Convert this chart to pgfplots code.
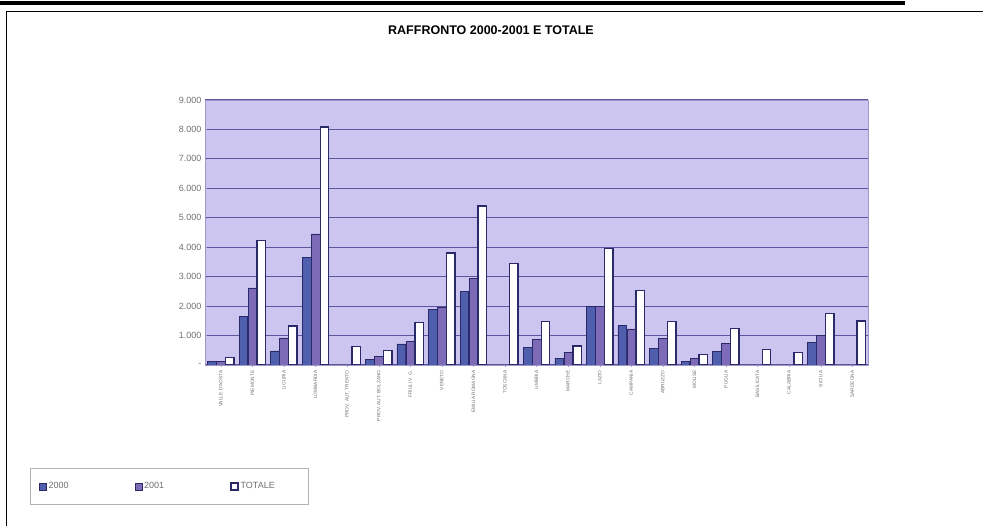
\documentclass[border=0pt]{standalone}
\usepackage{fontspec}
\setmainfont{Liberation Sans}
\usepackage{pgfplots}
\pgfplotsset{compat=1.18}
\definecolor{bgplot}{HTML}{CBC5F0}
\definecolor{gridc}{HTML}{5B55A0}
\definecolor{c2000}{HTML}{4F5FAE}
\definecolor{c2001}{HTML}{7D6BB8}
\definecolor{edgec}{HTML}{2A2A6A}
\definecolor{txtc}{HTML}{707070}
\begin{document}
\begin{tikzpicture}[x=1pt,y=1pt]
\path[use as bounding box] (0,0) rectangle (983,526);
\draw[line width=1pt] (6,0) -- (6,514) -- (983,514);
\draw[line width=4pt] (0,523) -- (905,523);
\node[font=\bfseries\fontsize{12.5}{14}\selectfont] at (491,496) {RAFFRONTO 2000-2001 E TOTALE};
\begin{axis}[at={(205pt,161pt)}, anchor=south west, scale only axis,
  width=663pt, height=265pt,
  ybar=0.5pt, bar width=8.5pt,
  xmin=-0.5, xmax=20.5, ymin=0, ymax=9000,
  axis background/.style={fill=bgplot},
  axis line style={draw=gridc!60},
  ymajorgrids, grid style={draw=gridc, line width=1.1pt},
  ytick={0,1000,...,9000},
  yticklabels={-,1.000,2.000,3.000,4.000,5.000,6.000,7.000,8.000,9.000},
  yticklabel style={font=\fontsize{9}{10}\selectfont, text=txtc},
  xtick={0,...,20},
  xticklabels={VALLE D'AOSTA,PIEMONTE,LIGURIA,LOMBARDIA,PROV. AUT. TRENTO,PROV. AUT. BOLZANO,FRIULI V. G.,VENETO,EMILIA ROMAGNA,TOSCANA,UMBRIA,MARCHE,LAZIO,CAMPANIA,ABRUZZO,MOLISE,PUGLIA,BASILICATA,CALABRIA,SICILIA,SARDEGNA},
  xticklabel style={rotate=90, anchor=east, font=\fontsize{4.8}{5}\selectfont, text=txtc},
  major tick length=2pt, tick style={draw=gridc!60},
  ytick pos=left, xtick pos=bottom,
  legend style={at={(-0.264,-0.39)}, anchor=north west, draw=gray!60, fill=white,
    font=\fontsize{9}{10}\selectfont, text=txtc, legend columns=3,
    inner xsep=9pt, inner ysep=12pt,
    /tikz/every even column/.append style={column sep=64pt}},
  legend image code/.code={\draw[#1] (0pt,-3.5pt) rectangle (7pt,3.5pt);},
]
\addplot[fill=c2000, draw=edgec, line width=0.5pt] coordinates {
 (0,120) (1,1650) (2,480) (3,3650) (5,200) (6,720) (7,1900) (8,2500)
 (10,600) (11,230) (12,2000) (13,1350) (14,570) (15,130) (16,450) (19,760)};
\addplot[fill=c2001, draw=edgec, line width=0.5pt] coordinates {
 (0,130) (1,2620) (2,920) (3,4450) (5,300) (6,800) (7,1950) (8,2950)
 (10,880) (11,420) (12,1980) (13,1230) (14,900) (15,230) (16,740) (19,1000)};
\addplot[fill=white, draw=edgec, line width=1.4pt] coordinates {
 (0,250) (1,4230) (2,1330) (3,8080) (4,620) (5,500) (6,1440) (7,3800) (8,5400)
 (9,3450) (10,1480) (11,640) (12,3950) (13,2520) (14,1480) (15,360) (16,1230)
 (17,520) (18,420) (19,1740) (20,1500)};
\addlegendentry{2000}
\addlegendentry{2001}
\addlegendentry{TOTALE\hphantom{MMM}}
\end{axis}
\end{tikzpicture}
\end{document}
